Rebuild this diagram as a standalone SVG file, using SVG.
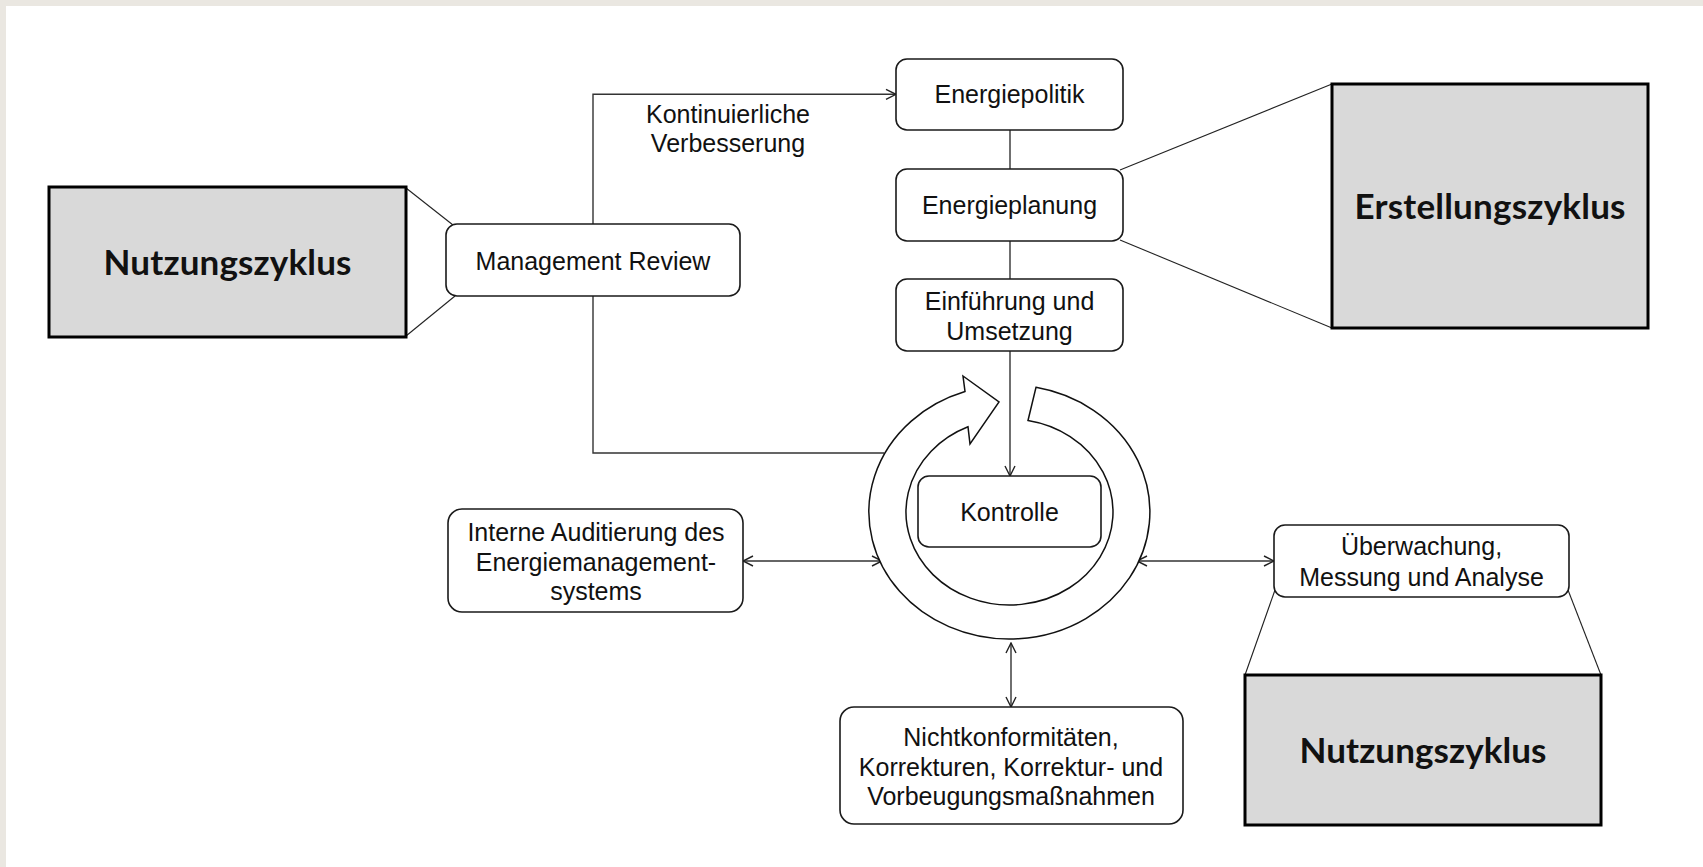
<svg xmlns="http://www.w3.org/2000/svg" width="1703" height="867" viewBox="0 0 1703 867">
<style>
.box{fill:#fff;stroke:#1a1a1a;stroke-width:1.6}
.big{fill:#d9d9d9;stroke:#000;stroke-width:3}
.t{font-family:"Liberation Sans",Arial,sans-serif;font-size:25px;fill:#111;text-anchor:middle}
.b{font-family:Lato,"Open Sans",sans-serif;font-weight:bold;font-size:35px;fill:#111;text-anchor:middle}
.ln{fill:none;stroke:#333;stroke-width:1.4}
.thin{fill:none;stroke:#222;stroke-width:1.1}
</style>
<defs>
<marker id="ah" viewBox="0 0 12 12" refX="11" refY="6" markerWidth="12" markerHeight="12" markerUnits="userSpaceOnUse" orient="auto-start-reverse">
<path d="M1,1 L11,6 L1,11" fill="none" stroke="#222" stroke-width="1.4"/>
</marker>
</defs>
<rect x="0" y="0" width="1703" height="867" fill="#eae7e1"/>
<rect x="6" y="6" width="1697" height="861" fill="#fff"/>

<g id="connectors">
<path class="ln" d="M593,224 V94.3 H896" marker-end="url(#ah)"/>
<path class="ln" d="M593,296 V453 H884"/>
<line class="ln" x1="1010" y1="130" x2="1010" y2="169"/>
<line class="ln" x1="1010" y1="241" x2="1010" y2="279"/>
<line class="ln" x1="1010" y1="351" x2="1010" y2="476" marker-end="url(#ah)"/>
<line class="ln" x1="743" y1="561" x2="882" y2="561" marker-start="url(#ah)" marker-end="url(#ah)"/>
<line class="ln" x1="1137" y1="561" x2="1274" y2="561" marker-start="url(#ah)" marker-end="url(#ah)"/>
<line class="ln" x1="1011" y1="643" x2="1011" y2="707" marker-start="url(#ah)" marker-end="url(#ah)"/>
<line class="thin" x1="406" y1="188" x2="453" y2="225"/>
<line class="thin" x1="406" y1="336" x2="455" y2="296"/>
<line class="thin" x1="1120" y1="170" x2="1332" y2="84"/>
<line class="thin" x1="1120" y1="240" x2="1332" y2="328"/>
<line class="thin" x1="1275" y1="590" x2="1245" y2="675"/>
<line class="thin" x1="1568" y1="590" x2="1601" y2="675"/>
</g>

<g id="cycle-arrow">
<path d="M1036,387.3 A140.5,127 0 1,1 965,391.5 L963,376 L999,402 L970,444 L968,426.8 A103.5,93 0 1,0 1028,420.5 Z" fill="#fff" stroke="#111" stroke-width="1.5"/>
</g>

<g id="nutzung-left">
<rect class="big" x="49" y="187" width="357" height="150"/>
<text class="b" x="227.5" y="275" textLength="248" lengthAdjust="spacing">Nutzungszyklus</text>
</g>

<g id="management-review">
<rect class="box" x="446" y="224" width="294" height="72" rx="11"/>
<text class="t" x="593" y="270">Management Review</text>
</g>

<g id="kontinuierliche-label">
<text class="t" x="728" y="123">Kontinuierliche</text>
<text class="t" x="728" y="152">Verbesserung</text>
</g>

<g id="energiepolitik">
<rect class="box" x="896" y="59" width="227" height="71" rx="11"/>
<text class="t" x="1009.5" y="103">Energiepolitik</text>
</g>

<g id="energieplanung">
<rect class="box" x="896" y="169" width="227" height="72" rx="11"/>
<text class="t" x="1009.5" y="214">Energieplanung</text>
</g>

<g id="einfuehrung">
<rect class="box" x="896" y="279" width="227" height="72" rx="11"/>
<text class="t" x="1009.5" y="310">Einführung und</text>
<text class="t" x="1009.5" y="340">Umsetzung</text>
</g>

<g id="erstellung">
<rect class="big" x="1332" y="84" width="316" height="244"/>
<text class="b" x="1490" y="219" textLength="271" lengthAdjust="spacing">Erstellungszyklus</text>
</g>

<g id="kontrolle">
<rect class="box" x="918" y="476" width="183" height="71" rx="11"/>
<text class="t" x="1009.5" y="521">Kontrolle</text>
</g>

<g id="interne-auditierung">
<rect class="box" x="448" y="509" width="295" height="103" rx="14"/>
<text class="t" x="596" y="541">Interne Auditierung des</text>
<text class="t" x="596" y="571">Energiemanagement-</text>
<text class="t" x="596" y="600">systems</text>
</g>

<g id="ueberwachung">
<rect class="box" x="1274" y="525" width="295" height="72" rx="11"/>
<text class="t" x="1421.5" y="555">Überwachung,</text>
<text class="t" x="1421.5" y="586">Messung und Analyse</text>
</g>

<g id="nichtkonformitaeten">
<rect class="box" x="840" y="707" width="343" height="117" rx="14"/>
<text class="t" x="1011" y="746">Nichtkonformitäten,</text>
<text class="t" x="1011" y="776">Korrekturen, Korrektur- und</text>
<text class="t" x="1011" y="805">Vorbeugungsmaßnahmen</text>
</g>

<g id="nutzung-right">
<rect class="big" x="1245" y="675" width="356" height="150"/>
<text class="b" x="1423" y="763" textLength="247" lengthAdjust="spacing">Nutzungszyklus</text>
</g>
</svg>
